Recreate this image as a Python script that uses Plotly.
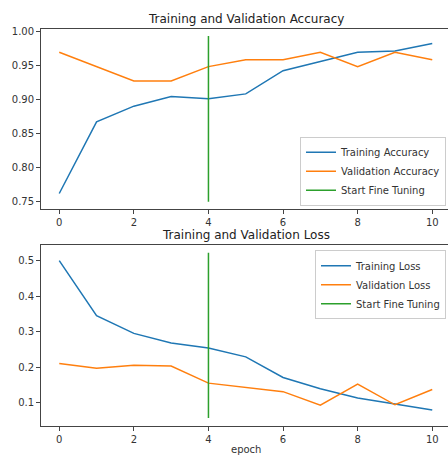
import plotly.graph_objects as go

epochs = list(range(11))
train_acc = [0.762, 0.867, 0.890, 0.904, 0.901, 0.908, 0.942, 0.955, 0.969, 0.971, 0.982]
val_acc = [0.969, 0.948, 0.927, 0.927, 0.948, 0.958, 0.958, 0.969, 0.948, 0.969, 0.958]
train_loss = [0.500, 0.345, 0.295, 0.268, 0.254, 0.229, 0.171, 0.139, 0.113, 0.096, 0.079]
val_loss = [0.210, 0.197, 0.205, 0.203, 0.155, 0.142, 0.131, 0.093, 0.152, 0.094, 0.137]
fine_tune_epoch = 4
ft_acc_span = [0.75, 0.993]
ft_loss_span = [0.057, 0.522]

BLUE = "#1f77b4"
ORANGE = "#ff7f0e"
GREEN = "#2ca02c"
FONT = "DejaVu Sans"

W, H = 448, 455
fig = go.Figure()

lw = 1.5
fig.add_trace(go.Scatter(x=epochs, y=train_acc, mode="lines", name="Training Accuracy",
                         line=dict(color=BLUE, width=lw), xaxis="x", yaxis="y", legend="legend"))
fig.add_trace(go.Scatter(x=epochs, y=val_acc, mode="lines", name="Validation Accuracy",
                         line=dict(color=ORANGE, width=lw), xaxis="x", yaxis="y", legend="legend"))
fig.add_trace(go.Scatter(x=[fine_tune_epoch, fine_tune_epoch], y=ft_acc_span, mode="lines",
                         name="Start Fine Tuning", line=dict(color=GREEN, width=lw),
                         xaxis="x", yaxis="y", legend="legend"))

fig.add_trace(go.Scatter(x=epochs, y=train_loss, mode="lines", name="Training Loss",
                         line=dict(color=BLUE, width=lw), xaxis="x2", yaxis="y2", legend="legend2"))
fig.add_trace(go.Scatter(x=epochs, y=val_loss, mode="lines", name="Validation Loss",
                         line=dict(color=ORANGE, width=lw), xaxis="x2", yaxis="y2", legend="legend2"))
fig.add_trace(go.Scatter(x=[fine_tune_epoch, fine_tune_epoch], y=ft_loss_span, mode="lines",
                         name="Start Fine Tuning", line=dict(color=GREEN, width=lw),
                         xaxis="x2", yaxis="y2", legend="legend2"))

x0 = 40.6 / W
xdom = [x0, 1.0]
top_dom = [1 - 207.7 / H, 1 - 25.7 / H]
bot_dom = [1 - 426.3 / H, 1 - 244 / H]

axis_common = dict(showgrid=False, zeroline=False, showline=True, linecolor="#444",
                   linewidth=1, ticks="outside", ticklen=3.5, tickwidth=1, tickcolor="#444",
                   tickfont=dict(family=FONT, size=10, color="#333"))

xr = [-0.5, -0.5 + (W - 40.6) / 37.3]

legend_common = dict(bgcolor="rgba(255,255,255,0.8)", bordercolor="#ccc", borderwidth=1,
                     font=dict(family=FONT, size=10, color="#333"), tracegroupgap=0,
                     itemwidth=30, xanchor="right")

fig.update_layout(
    width=W, height=H,
    margin=dict(l=0, r=0, t=0, b=0),
    paper_bgcolor="white", plot_bgcolor="white",
    font=dict(family=FONT, size=10, color="#333"),
    xaxis=dict(domain=xdom, anchor="y", range=xr, tickvals=[0, 2, 4, 6, 8, 10],
               mirror=True, **axis_common),
    yaxis=dict(domain=top_dom, anchor="x", range=[0.7388, 1.0038],
               tickvals=[0.75, 0.80, 0.85, 0.90, 0.95, 1.00], tickformat=".2f", **axis_common),
    xaxis2=dict(domain=xdom, anchor="y2", range=xr, tickvals=[0, 2, 4, 6, 8, 10],
                mirror=True, **axis_common),
    yaxis2=dict(domain=bot_dom, anchor="x2", range=[0.0329, 0.5428],
                tickvals=[0.1, 0.2, 0.3, 0.4, 0.5], tickformat=".1f", **axis_common),
    legend=dict(x=446 / W, y=1 - 204 / H, yanchor="bottom", **legend_common),
    legend2=dict(x=446 / W, y=1 - 249 / H, yanchor="top", **legend_common),
    annotations=[
        dict(text="Training and Validation Accuracy", x=246 / W, y=1 - 16 / H, xref="paper",
             yref="paper", showarrow=False, xanchor="center", yanchor="middle",
             font=dict(family=FONT, size=12, color="#222")),
        dict(text="Training and Validation Loss", x=246 / W, y=1 - 234 / H, xref="paper",
             yref="paper", showarrow=False, xanchor="center", yanchor="middle",
             font=dict(family=FONT, size=12, color="#222")),
        dict(text="epoch", x=246 / W, y=1 - 449 / H, xref="paper", yref="paper",
             showarrow=False, xanchor="center", yanchor="middle",
             font=dict(family=FONT, size=10, color="#333")),
    ],
)

fig.write_html("out.html", config={"displayModeBar": False},
               post_script="document.body.style.margin='0';document.body.style.overflow='hidden';")
